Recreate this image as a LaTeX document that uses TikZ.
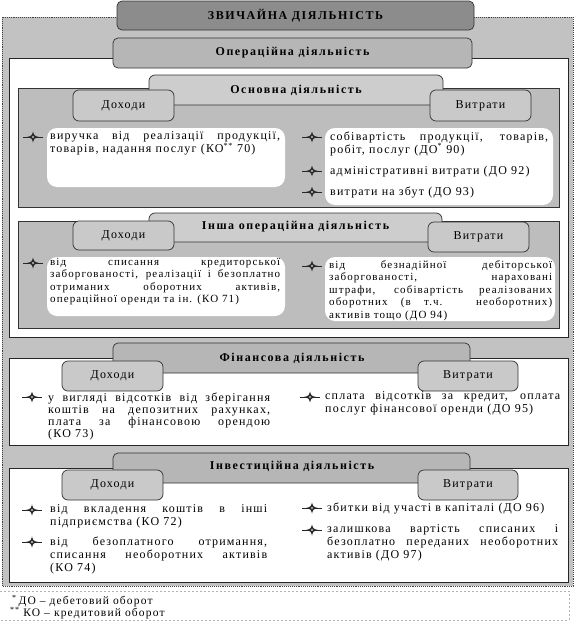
\documentclass[tikz,border=0pt]{standalone}
\usepackage{fontspec}
\setmainfont{Liberation Serif}
\newfontfamily\txtfont{Liberation Serif}[LetterSpace=10]
\newfontfamily\hdfont{Liberation Serif}[LetterSpace=13]
\definecolor{outerc}{HTML}{C2C2C2}
\definecolor{titlec}{HTML}{8C8C8C}
\definecolor{tabAc}{HTML}{B6B6B6}
\definecolor{tabBc}{HTML}{CDCDCD}
\definecolor{tabCc}{HTML}{C9C9C9}
\definecolor{gpanc}{HTML}{BDBDBD}
\tikzset{
  wpanel/.style={fill=white, draw=black!85, line width=1pt},
  gpanel/.style={fill=gpanc, draw=black!80, line width=0.7pt},
  tabA/.style={fill=tabAc, draw=black!80, line width=0.7pt, rounded corners=5pt},
  tabB/.style={fill=tabBc, draw=black!80, line width=0.7pt, rounded corners=6pt},
  tabC/.style={fill=tabCc, draw=black!80, line width=0.7pt, rounded corners=6pt},
  wbox/.style={fill=white, rounded corners=10pt},
  head/.style={inner sep=0pt, font=\fontsize{12}{13}\hdfont\bfseries},
  lab/.style={inner sep=0pt, font=\fontsize{12}{13}\txtfont},
  itm/.style={anchor=north west, inner sep=0pt, align=justify, text width=#1,
     font=\fontsize{12}{13}\txtfont,
     execute at begin node={\hyphenpenalty=10000\exhyphenpenalty=10000\tolerance=9999\emergencystretch=30pt}},
  itms/.style={itm=#1, font=\fontsize{11}{12.4}\txtfont},
  itmf/.style={itm=#1, font=\fontsize{12}{12.2}\txtfont},
  foot/.style={anchor=base west, inner sep=0pt, font=\fontsize{11.5}{12}\txtfont},
  bul/.pic={
    \draw[line width=1pt, black!85] (-10,0) -- (10,0);
    \fill[black!85] (0,-5.5) .. controls (1.2,-1.2) .. (6,0) .. controls (1.2,1.2) .. (0,5.5)
       .. controls (-1.2,1.2) .. (-6,0) .. controls (-1.2,-1.2) .. (0,-5.5) -- cycle;
    \fill[black!35] (0,0) circle (1.3);
  }
}
\begin{document}
\begin{tikzpicture}[x=1pt,y=-1pt]
\useasboundingbox (0,0) rectangle (575,621);
% outer frame
\draw[fill=outerc, draw=black!75, densely dotted, line width=0.9pt] (2,17) rectangle (573,586);
% title
\draw[fill=titlec, draw=black!80, rounded corners=5pt, line width=0.7pt] (117,1) rectangle (474,30);
\node[head] (title) at (295.5,15.5) {ЗВИЧАЙНА ДІЯЛЬНІСТЬ};

% ---------- Operating activity ----------
\draw[wpanel] (9,58) rectangle (568,337);
\draw[tabA] (113,38) rectangle (472,68);
\node[head] (oper) at (292.5,53) {Операційна діяльність};

% main activity
\draw[gpanel] (18,88) rectangle (559,207);
\draw[tabB] (149,75) rectangle (443,105);
\node[head] (osn) at (296,90) {Основна діяльність};
\draw[tabC] (73,90) rectangle (174,121);
\node[lab] (osnD) at (123.5,105.5) {Доходи};
\draw[tabC] (430,90) rectangle (531,121);
\node[lab] (osnV) at (480.5,105.5) {Витрати};
\fill[wbox] (47,128) rectangle (285,187);
\fill[wbox] (325,128) rectangle (553,205);
\pic at (33,137) {bul};
\node[itm=230pt] (osnD1) at (50,131.5) {виручка від реалізації продукції,\linebreak товарів, надання послуг (КО\textsuperscript{**} 70)};
\pic at (312,137) {bul};
\node[itm=218pt] (osnV1) at (330,131.5) {собівартість продукції, товарів,\linebreak робіт, послуг (ДО\textsuperscript{*} 90)};
\pic at (312,171) {bul};
\node[itm=218pt] (osnV2) at (330,165.5) {адміністративні витрати (ДО 92)};
\pic at (312,192) {bul};
\node[itm=218pt] (osnV3) at (330,186.5) {витрати на збут (ДО 93)};

% other operating activity
\draw[gpanel] (18,221) rectangle (559,328);
\draw[tabB] (149,213) rectangle (442,242);
\node[head] (insh) at (295.5,227) {Інша операційна діяльність};
\draw[tabC] (73,221) rectangle (174,250);
\node[lab] (inshD) at (123.5,235.5) {Доходи};
\draw[tabC] (428,222) rectangle (529,252);
\node[lab] (inshV) at (478.5,237) {Витрати};
\fill[wbox] (47,257) rectangle (285,316);
\fill[wbox] (325,257) rectangle (555,321);
\pic at (33,263) {bul};
\node[itms=230pt] (inshD1) at (50,258) {від списання кредиторської\linebreak заборгованості, реалізації і безоплатно\linebreak отриманих оборотних активів,\linebreak операційної оренди та ін. (КО 71)};
\pic at (312,266) {bul};
\node[itms=223pt] (inshV1) at (329,260.5) {від безнадійної дебіторської\linebreak заборгованості, нараховані\linebreak штрафи, собівартість реалізованих\linebreak оборотних (в т.ч. необоротних)\linebreak активів тощо (ДО 94)};

% ---------- Financial activity ----------
\draw[wpanel] (9,358) rectangle (568,445);
\draw[tabA] (113,343) rectangle (470,373);
\node[head] (fin) at (292,358) {Фінансова діяльність};
\draw[tabC] (62,361) rectangle (163,391);
\node[lab] (finD) at (112.5,376) {Доходи};
\draw[tabC] (418,361) rectangle (518,391);
\node[lab] (finV) at (468,376) {Витрати};
\pic at (32,397) {bul};
\node[itmf=222pt] (finD1) at (48,392.5) {у вигляді відсотків від зберігання\linebreak коштів на депозитних рахунках,\linebreak плата за фінансовою орендою\linebreak (КО 73)};
\pic at (310,397) {bul};
\node[itm=235pt] (finV1) at (325,391.5) {сплата відсотків за кредит, оплата\linebreak послуг фінансової оренди (ДО 95)};

% ---------- Investment activity ----------
\draw[wpanel] (9,468) rectangle (568,582);
\draw[tabA] (113,453) rectangle (470,483);
\node[head] (inv) at (292,466) {Інвестиційна діяльність};
\draw[tabC] (62,470) rectangle (163,500);
\node[lab] (invD) at (112.5,485) {Доходи};
\draw[tabC] (418,470) rectangle (518,500);
\node[lab] (invV) at (468,485) {Витрати};
\pic at (32,510) {bul};
\node[itm=217pt] (invD1) at (50,504.5) {від вкладення коштів в інші\linebreak підприємства (КО 72)};
\pic at (32,542) {bul};
\node[itm=217pt] (invD2) at (50,536.5) {від безоплатного отримання,\linebreak списання необоротних активів\linebreak (КО 74)};
\pic at (312,508) {bul};
\node[itm=231pt] (invV1) at (327,502.5) {збитки від участі в капіталі (ДО 96)};
\pic at (312,530) {bul};
\node[itm=231pt] (invV2) at (327,524.5) {залишкова вартість списаних і\linebreak безоплатно переданих необоротних\linebreak активів (ДО 97)};

% ---------- footnotes ----------
\draw[black!30, dash pattern=on 2pt off 2pt, line width=0.6pt] (0,591) -- (569,591) -- (569,620) -- (0,620);
\node[foot] (fn1) at (12,604.5) {\textsuperscript{*}\,ДО – дебетовий оборот};
\node[foot] (fn2) at (10,616.5) {\textsuperscript{**}\,\,КО – кредитовий оборот};
\end{tikzpicture}
\end{document}
